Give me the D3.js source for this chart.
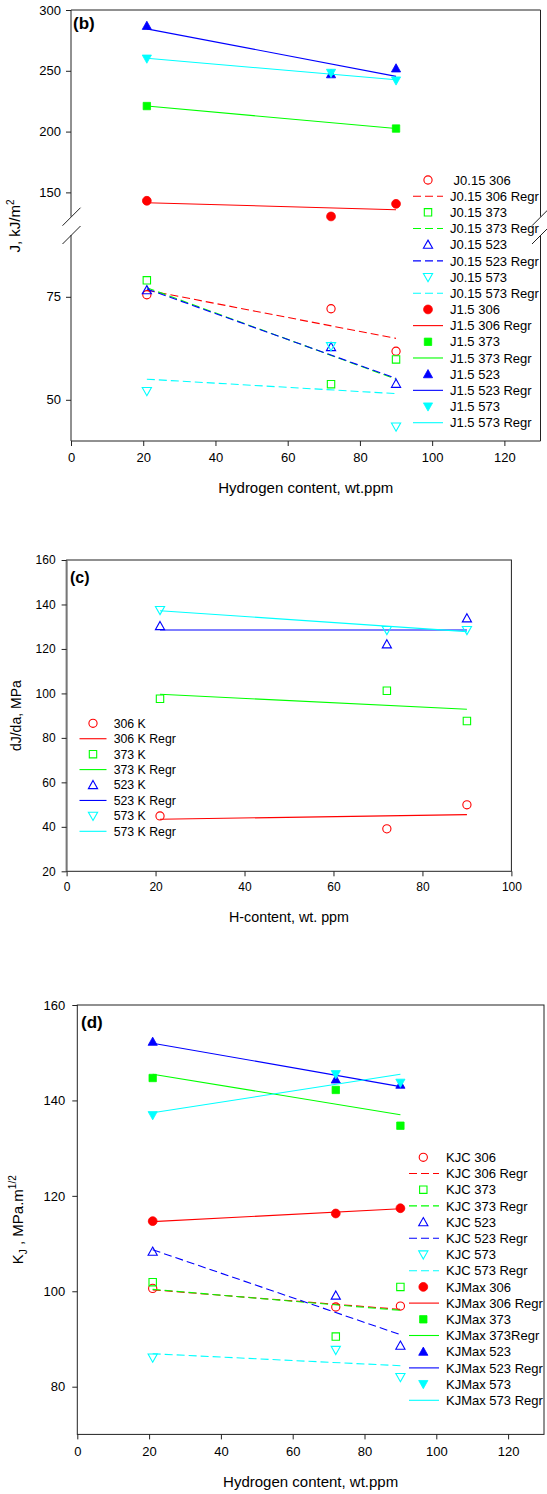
<!DOCTYPE html>
<html>
<head>
<meta charset="utf-8">
<script src="https://cdn.jsdelivr.net/npm/d3@7"></script>
<style>
  body { margin: 0; background: #fff; }
  svg { display: block; font-family: "Liberation Sans", Arial, sans-serif; }
  text { white-space: pre; }
</style>
</head>
<body>
<svg id="chart" width="547" height="1494"></svg>
<script>
// ---------------- DATA ----------------
const hydrogen = [21, 72, 90];      // wt.ppm
const regrX = [21, 90];             // regression line ends

// Panel (b): J, kJ/m^2
const j015_306 = [75.5, 72.1, 61.8];   const j015_306_regr = [76.6, 64.9];
const j015_373 = [79.0, 53.8, 59.8];   const j015_373_regr = [77.2, 55.0];
const j015_523 = [76.6, 62.8, 53.9];   const j015_523_regr = [76.9, 55.2];
const j015_573 = [52.1, 63.0, 43.5];   const j015_573_regr = [55.0, 51.5];
const j15_306 = [143.1, 130.2, 140.6]; const j15_306_regr = [141.5, 135.7];
const j15_373 = [221.0, null, 202.5];  const j15_373_regr = [221.0, 202.5];
const j15_523 = [287.0, 247.2, 252.0]; const j15_523_regr = [284.5, 245.4];
const j15_573 = [260.0, 248.3, 242.0]; const j15_573_regr = [260.3, 242.6];
const bTicksX = [0, 20, 40, 60, 80, 100, 120];
const bTicksUpper = [150, 200, 250, 300];
const bTicksLower = [50, 75];

// Panel (c): dJ/da, MPa
const c_306 = [44.9, 39.1, 49.9];    const c_306_regr = [43.4, 45.5];
const c_373 = [97.6, 101.2, 87.6];   const c_373_regr = [99.6, 92.9];
const c_523 = [130.3, 122.1, 133.8]; const c_523_regr = [128.5, 128.5];
const c_573 = [137.5, 128.5, 128.5]; const c_573_regr = [137.2, 127.8];
const cTicksX = [0, 20, 40, 60, 80, 100];
const cTicksY = [20, 40, 60, 80, 100, 120, 140, 160];

// Panel (d): K_J, MPa.m^1/2
const kjc_306 = [100.6, 96.7, 96.9];    const kjc_306_regr = [100.3, 96.2];
const kjc_373 = [101.9, 90.5, 100.9];   const kjc_373_regr = [100.4, 96.0];
const kjc_523 = [108.3, 99.1, 88.6];    const kjc_523_regr = [108.7, 90.9];
const kjc_573 = [86.1, 87.7, 82.0];     const kjc_573_regr = [86.9, 84.4];
const kjm_306 = [114.7, 116.3, 117.4];  const kjm_306_regr = [114.6, 117.3];
const kjm_373 = [144.7, 142.2, 134.7];  const kjm_373_regr = [145.5, 137.0];
const kjm_523 = [152.3, 144.4, 143.3];  const kjm_523_regr = [152.0, 142.9];
const kjm_573 = [136.9, 145.5, 143.7];  const kjm_573_regr = [137.4, 145.5];
const dTicksX = [0, 20, 40, 60, 80, 100, 120];
const dTicksY = [80, 100, 120, 140, 160];

const colors = { 306: "#ff0000", 373: "#00ff00", 523: "#0000ff", 573: "#00ffff" };
const shapes = { 306: "circle", 373: "square", 523: "up", 573: "down" };

// ---------------- DRAWING ----------------
const svg = d3.select("#chart");
const FONT = "\"Liberation Sans\", Arial, sans-serif";
const AX = "#222";

function markerPath(shape) {
  if (shape === "up") return "M0,-4.6L4.6,3.6L-4.6,3.6Z";
  if (shape === "down") return "M0,4.6L4.6,-3.6L-4.6,-3.6Z";
  if (shape === "square") return "M-3.7,-3.7H3.7V3.7H-3.7Z";
  return null;
}
function drawMarker(g, x, y, temp, filled) {
  const col = colors[temp], shape = shapes[temp];
  let el;
  if (shape === "circle") {
    el = g.append("circle").attr("cx", x).attr("cy", y).attr("r", filled ? 4.4 : 4.1);
  } else {
    el = g.append("path").attr("d", markerPath(shape)).attr("transform", `translate(${x},${y})`);
  }
  el.attr("fill", filled ? col : "none").attr("stroke", col).attr("stroke-width", filled ? 0.8 : 1.1);
}
function drawRegr(g, x1, y1, x2, y2, temp, dashed) {
  g.append("line").attr("x1", x1).attr("y1", y1).attr("x2", x2).attr("y2", y2)
    .attr("stroke", colors[temp]).attr("stroke-width", 1.1)
    .attr("stroke-dasharray", dashed ? "8,4" : null);
}
function drawLegend(g, entries, cfg) {
  entries.forEach((e, i) => {
    const y = cfg.y0 + i * cfg.step;
    if (e.kind === "marker") drawMarker(g, cfg.sx, y, e.temp, e.filled);
    else drawRegr(g, cfg.lx1, y, cfg.lx2, y, e.temp, e.dashed);
    g.append("text").attr("x", cfg.tx).attr("y", y + cfg.fs * 0.36)
      .attr("font-size", cfg.fs).attr("fill", "#000").text(e.label);
  });
}
function styleAxis(sel, fs) {
  sel.select(".domain").remove();
  sel.selectAll(".tick line").attr("stroke", AX);
  sel.selectAll(".tick text").attr("font-size", fs).attr("font-family", FONT).attr("fill", "#000");
}

// ===== Panel (b) =====
(function () {
  const L = 71, R = 540.5, T = 10, B = 441;
  const brkTop = 216.7, brkBot = 235;
  const x = d3.scaleLinear().domain([0, 130]).range([L, R]);
  const yU = d3.scaleLinear().domain([130, 300]).range([brkTop, T]);
  const yL = d3.scaleLinear().domain([40, 90]).range([B, brkBot]);
  const y = v => (v >= 110 ? yU(v) : yL(v));
  const g = svg.append("g");

  // frame
  g.append("line").attr("x1", L).attr("x2", R).attr("y1", T).attr("y2", T).attr("stroke", AX);
  g.append("line").attr("x1", L).attr("x2", R).attr("y1", B).attr("y2", B).attr("stroke", AX);
  [L, R].forEach(xx => {
    g.append("line").attr("x1", xx).attr("x2", xx).attr("y1", T).attr("y2", brkTop).attr("stroke", AX);
    g.append("line").attr("x1", xx).attr("x2", xx).attr("y1", brkBot).attr("y2", B).attr("stroke", AX);
    [brkTop, brkBot].forEach(yy => {
      g.append("line").attr("x1", xx - 8.5).attr("y1", yy + 9).attr("x2", xx + 9.5).attr("y2", yy - 9)
        .attr("stroke", AX).attr("stroke-width", 1);
    });
  });

  const ax = g.append("g").attr("transform", `translate(0,${B})`)
    .call(d3.axisBottom(x).tickValues(bTicksX).tickSize(5).tickPadding(7));
  styleAxis(ax, 13);
  const ayU = g.append("g").attr("transform", `translate(${L},0)`)
    .call(d3.axisLeft(yU).tickValues(bTicksUpper).tickSize(5).tickPadding(5));
  styleAxis(ayU, 13);
  const ayL = g.append("g").attr("transform", `translate(${L},0)`)
    .call(d3.axisLeft(yL).tickValues(bTicksLower).tickSize(5).tickPadding(5));
  styleAxis(ayL, 13);

  const series = [
    { name: "J0.15 306", temp: 306, filled: false, v: j015_306, r: j015_306_regr },
    { name: "J0.15 373", temp: 373, filled: false, v: j015_373, r: j015_373_regr },
    { name: "J0.15 523", temp: 523, filled: false, v: j015_523, r: j015_523_regr },
    { name: "J0.15 573", temp: 573, filled: false, v: j015_573, r: j015_573_regr },
    { name: "J1.5 306", temp: 306, filled: true, v: j15_306, r: j15_306_regr },
    { name: "J1.5 373", temp: 373, filled: true, v: j15_373, r: j15_373_regr },
    { name: "J1.5 523", temp: 523, filled: true, v: j15_523, r: j15_523_regr },
    { name: "J1.5 573", temp: 573, filled: true, v: j15_573, r: j15_573_regr },
  ];
  series.forEach(s => {
    s.v.forEach((v, i) => { if (v != null) drawMarker(g, x(hydrogen[i]), y(v), s.temp, s.filled); });
    drawRegr(g, x(regrX[0]), y(s.r[0]), x(regrX[1]), y(s.r[1]), s.temp, !s.filled);
  });

  const entries = [];
  series.forEach((s, i) => {
    entries.push({ kind: "marker", temp: s.temp, filled: s.filled, label: (i === 0 ? " " : "") + s.name });
    entries.push({ kind: "line", temp: s.temp, dashed: !s.filled, label: s.name + " Regr" });
  });
  drawLegend(g, entries, { y0: 180, step: 16.18, sx: 428, lx1: 413, lx2: 443, tx: 450, fs: 13 });

  g.append("text").attr("x", 73).attr("y", 29).attr("font-size", 17).attr("font-weight", "bold").text("(b)");
  const yt = g.append("text").attr("transform", "translate(20,226) rotate(-90)")
    .attr("text-anchor", "middle").attr("font-size", 15);
  yt.append("tspan").text("J, kJ/m");
  yt.append("tspan").attr("font-size", 10).attr("dy", -6).text("2");
  g.append("text").attr("x", (L + R) / 2).attr("y", 493).attr("text-anchor", "middle")
    .attr("font-size", 15).text("Hydrogen content, wt.ppm");
})();

// ===== Panel (c) =====
(function () {
  const L = 66.6, R = 511.4, T = 560, B = 871.3;
  const x = d3.scaleLinear().domain([0, 100]).range([L, R]);
  const y = d3.scaleLinear().domain([20, 160]).range([B, T]);
  const g = svg.append("g");
  g.append("rect").attr("x", L).attr("y", T).attr("width", R - L).attr("height", B - T)
    .attr("fill", "none").attr("stroke", AX);
  g.append("line").attr("x1", L).attr("x2", L).attr("y1", T).attr("y2", B).attr("stroke", "#777").attr("stroke-width", 2);

  const ax = g.append("g").attr("transform", `translate(0,${B})`)
    .call(d3.axisBottom(x).tickValues(cTicksX).tickSize(5).tickPadding(6));
  styleAxis(ax, 12);
  const ay = g.append("g").attr("transform", `translate(${L},0)`)
    .call(d3.axisLeft(y).tickValues(cTicksY).tickSize(5).tickPadding(6));
  styleAxis(ay, 12);

  const series = [
    { name: "306 K", temp: 306, v: c_306, r: c_306_regr },
    { name: "373 K", temp: 373, v: c_373, r: c_373_regr },
    { name: "523 K", temp: 523, v: c_523, r: c_523_regr },
    { name: "573 K", temp: 573, v: c_573, r: c_573_regr },
  ];
  series.forEach(s => {
    s.v.forEach((v, i) => drawMarker(g, x(hydrogen[i]), y(v), s.temp, false));
    drawRegr(g, x(regrX[0]), y(s.r[0]), x(regrX[1]), y(s.r[1]), s.temp, false);
  });
  const entries = [];
  series.forEach(s => {
    entries.push({ kind: "marker", temp: s.temp, filled: false, label: s.name });
    entries.push({ kind: "line", temp: s.temp, dashed: false, label: s.name + " Regr" });
  });
  drawLegend(g, entries, { y0: 723.3, step: 15.43, sx: 93, lx1: 79.5, lx2: 106.5, tx: 113.7, fs: 12.3 });

  g.append("text").attr("x", 70).attr("y", 583).attr("font-size", 16).attr("font-weight", "bold").text("(c)");
  g.append("text").attr("transform", `translate(21,${(T + B) / 2}) rotate(-90)`)
    .attr("text-anchor", "middle").attr("font-size", 14).text("dJ/da, MPa");
  g.append("text").attr("x", (L + R) / 2).attr("y", 921.5).attr("text-anchor", "middle")
    .attr("font-size", 14.3).text("H-content, wt. ppm");
})();

// ===== Panel (d) =====
(function () {
  const L = 77.3, R = 544, T = 1005, B = 1434.4;
  const x = d3.scaleLinear().domain([0, 130]).range([L, R]);
  const y = d3.scaleLinear().domain([70, 160]).range([B, T]);
  const g = svg.append("g");
  g.append("rect").attr("x", L).attr("y", T).attr("width", R - L).attr("height", B - T)
    .attr("fill", "none").attr("stroke", AX);

  const ax = g.append("g").attr("transform", `translate(0,${B})`)
    .call(d3.axisBottom(x).tickValues(dTicksX).tickSize(5).tickPadding(7));
  styleAxis(ax, 13);
  const ay = g.append("g").attr("transform", `translate(${L},0)`)
    .call(d3.axisLeft(y).tickValues(dTicksY).tickSize(5).tickPadding(7));
  styleAxis(ay, 13);

  const series = [
    { name: "KJC 306", temp: 306, filled: false, v: kjc_306, r: kjc_306_regr, rl: "KJC 306 Regr" },
    { name: "KJC 373", temp: 373, filled: false, v: kjc_373, r: kjc_373_regr, rl: "KJC 373 Regr" },
    { name: "KJC 523", temp: 523, filled: false, v: kjc_523, r: kjc_523_regr, rl: "KJC 523 Regr" },
    { name: "KJC 573", temp: 573, filled: false, v: kjc_573, r: kjc_573_regr, rl: "KJC 573 Regr" },
    { name: "KJMax 306", temp: 306, filled: true, v: kjm_306, r: kjm_306_regr, rl: "KJMax 306 Regr" },
    { name: "KJMax 373", temp: 373, filled: true, v: kjm_373, r: kjm_373_regr, rl: "KJMax 373Regr" },
    { name: "KJMax 523", temp: 523, filled: true, v: kjm_523, r: kjm_523_regr, rl: "KJMax 523 Regr" },
    { name: "KJMax 573", temp: 573, filled: true, v: kjm_573, r: kjm_573_regr, rl: "KJMax 573 Regr" },
  ];
  series.forEach(s => {
    s.v.forEach((v, i) => drawMarker(g, x(hydrogen[i]), y(v), s.temp, s.filled));
    drawRegr(g, x(regrX[0]), y(s.r[0]), x(regrX[1]), y(s.r[1]), s.temp, !s.filled);
  });
  const entries = [];
  series.forEach(s => {
    entries.push({ kind: "marker", temp: s.temp, filled: s.filled, label: s.name });
    entries.push({ kind: "line", temp: s.temp, dashed: !s.filled, label: s.rl });
  });
  drawLegend(g, entries, { y0: 1157.3, step: 16.2, sx: 423.3, lx1: 409, lx2: 439, tx: 446, fs: 13 });

  g.append("text").attr("x", 81).attr("y", 1028).attr("font-size", 17).attr("font-weight", "bold").text("(d)");
  const yt = g.append("text").attr("transform", `translate(23,${(T + B) / 2}) rotate(-90)`)
    .attr("text-anchor", "middle").attr("font-size", 15);
  yt.append("tspan").text("K");
  yt.append("tspan").attr("font-size", 10).attr("dy", 4).text("J");
  yt.append("tspan").attr("dy", -4).text(" , MPa.m");
  yt.append("tspan").attr("font-size", 10).attr("dy", -7).text("1/2");
  g.append("text").attr("x", (L + R) / 2).attr("y", 1487).attr("text-anchor", "middle")
    .attr("font-size", 15).text("Hydrogen content, wt.ppm");
})();
</script>
</body>
</html>
